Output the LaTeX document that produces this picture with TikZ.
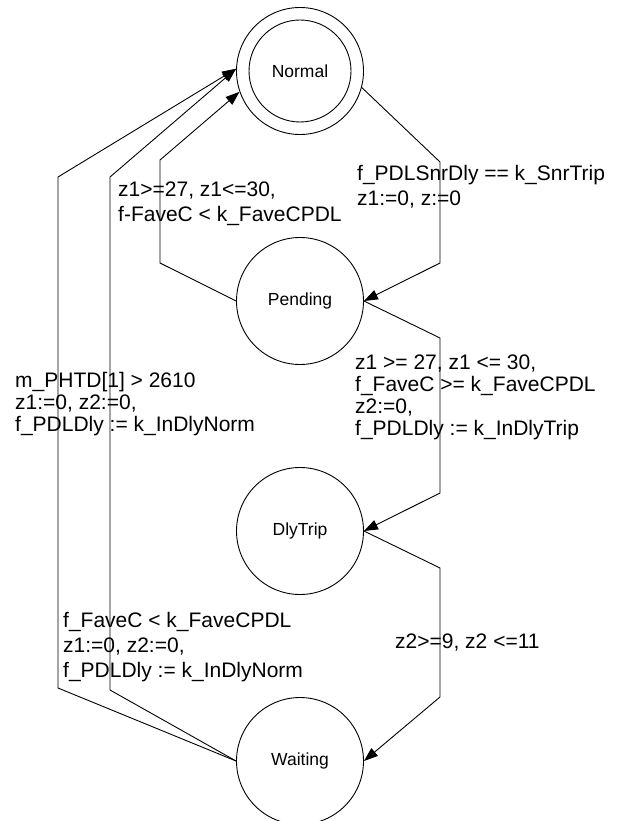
\documentclass[tikz,border=0pt]{standalone}
\usepackage{fontspec}
\setmainfont{Liberation Sans}
\usetikzlibrary{arrows.meta}
\begin{document}
\begin{tikzpicture}[x=1pt,y=-1pt,
  state/.style={circle,draw,line width=0.9pt,minimum size=127pt,inner sep=0pt,font=\fontsize{17.5}{20}\selectfont},
  edge/.style={draw,line width=0.9pt,-{Triangle[length=14pt,width=10pt]}},
  lbl/.style={anchor=north west,inner sep=0pt,align=left,font=\fontsize{21}{25}\selectfont},
  lbltight/.style={lbl,font=\fontsize{21}{22}\selectfont}]
\useasboundingbox[fill=white] (0,0) rectangle (619,821);
\node[state] (normal) at (300,71) {Normal};
\node[circle,draw,line width=0.9pt,minimum size=102pt,inner sep=0pt] (normalin) at (300,71) {};
\node[state] (pending) at (300,301) {Pending};
\node[state] (dlytrip) at (300,531) {DlyTrip};
\node[state] (waiting) at (300,761) {Waiting};

\draw[edge] (normal.-15) -- (440,162) -- (440,263) -- (pending.east);
\draw[edge] (pending.west) -- (160,263) -- (160,160) -- (normal.199);
\draw[edge] (waiting.west) -- (58,688) -- (58,177) -- (normal.178);
\draw[edge] (waiting.west) -- (110,690) -- (110,177) -- (normal.178);
\draw[edge] (pending.east) -- (440,338) -- (440,493) -- (dlytrip.east);
\draw[edge] (dlytrip.east) -- (440,568) -- (440,697) -- (waiting.east);

\node[lbl] (l1) at (118,182) {z1>=27, z1<=30,\\f-FaveC < k\_FaveCPDL};
\node[lbl] (l2) at (357,165) {f\_PDLSnrDly == k\_SnrTrip\\z1:=0, z:=0};
\node[lbltight] (l3) at (15,372) {m\_PHTD[1] > 2610\\z1:=0, z2:=0,\\f\_PDLDly := k\_InDlyNorm};
\node[lbltight] (l4) at (355,355) {z1 >= 27, z1 <= 30,\\f\_FaveC >= k\_FaveCPDL\\z2:=0,\\f\_PDLDly := k\_InDlyTrip};
\node[lbl] (l5) at (63,612) {f\_FaveC < k\_FaveCPDL\\z1:=0, z2:=0,\\f\_PDLDly := k\_InDlyNorm};
\node[lbl] (l6) at (395,634) {z2>=9, z2 <=11};
\end{tikzpicture}
\end{document}
